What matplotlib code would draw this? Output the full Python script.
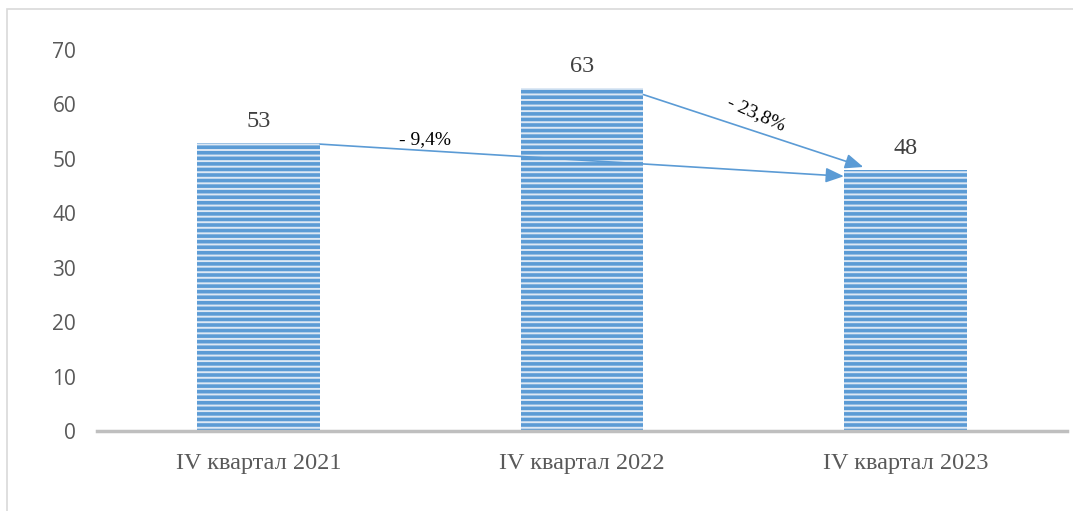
import matplotlib.pyplot as plt
from matplotlib.patches import Rectangle

# ── data ──────────────────────────────────────────────────────────────────────
categories = ["IV квартал 2021", "IV квартал 2022", "IV квартал 2023"]
values = [53, 63, 48]
change_labels = ["- 9,4%", "- 23,8%"]
yticks = [0, 10, 20, 30, 40, 50, 60, 70]

BAR_W = 0.38
STRIPE = "#5B9BD5"
BG = "#DDE8F4"

plt.rcParams['hatch.linewidth'] = 2.6
plt.rcParams['hatch.color'] = STRIPE

fig = plt.figure(figsize=(10.73, 5.11), dpi=100)
ax = fig.add_axes([0.0904, 0.1566, 0.904, 0.7456])

# outer frame of the chart area
fig.patches.append(Rectangle((7 / 1073, -0.01), 1.0, 1 - 9 / 511 + 0.01,
                             transform=fig.transFigure, fill=False,
                             edgecolor="#D9D9D9", linewidth=1.2))

x = list(range(len(categories)))
bars = ax.bar(x, values, width=BAR_W, color=BG, edgecolor=STRIPE,
              hatch="---", linewidth=0)

for xi, v in zip(x, values):
    ax.text(xi, v + 2.0, str(v), ha="center", va="bottom",
            family="Liberation Serif", fontsize=17.5, color="#404040")

# arrows showing the change
arrow_kw = dict(arrowstyle="-|>,head_length=1.1,head_width=0.45",
                color=STRIPE, lw=1.2, shrinkA=0, shrinkB=0)
ax.annotate("", xy=(2 - BAR_W / 2, values[2] - 1.2),
            xytext=(BAR_W / 2, values[0] - 0.3), arrowprops=arrow_kw)
ax.annotate("", xy=(2 - BAR_W / 2 + 0.06, values[2] + 0.5),
            xytext=(1 + BAR_W / 2, values[1] - 1.2), arrowprops=arrow_kw)

ax.text(0.515, 53.6, change_labels[0], ha="center", va="center",
        family="Liberation Serif", fontsize=14, color="black")
ax.text(1.54, 58.2, change_labels[1], ha="center", va="center", rotation=-24,
        family="Liberation Serif", fontsize=14, color="black")

ax.set_xlim(-0.5, 2.5)
ax.set_ylim(0, 70)
ax.set_yticks(yticks)
ax.set_yticklabels([str(t) for t in yticks], family="Open Sans", fontsize=15,
                   color="#595959")
ax.set_xticks(x)
ax.set_xticklabels(categories, family="Liberation Serif", fontsize=17.5,
                   color="#595959")
ax.tick_params(axis="both", length=0)
ax.tick_params(axis="y", pad=15)
ax.tick_params(axis="x", pad=16)

for side in ["top", "right", "left"]:
    ax.spines[side].set_visible(False)
ax.spines["bottom"].set_color("#BFBFBF")
ax.spines["bottom"].set_linewidth(2.5)

fig.savefig("out.png", dpi=100)
